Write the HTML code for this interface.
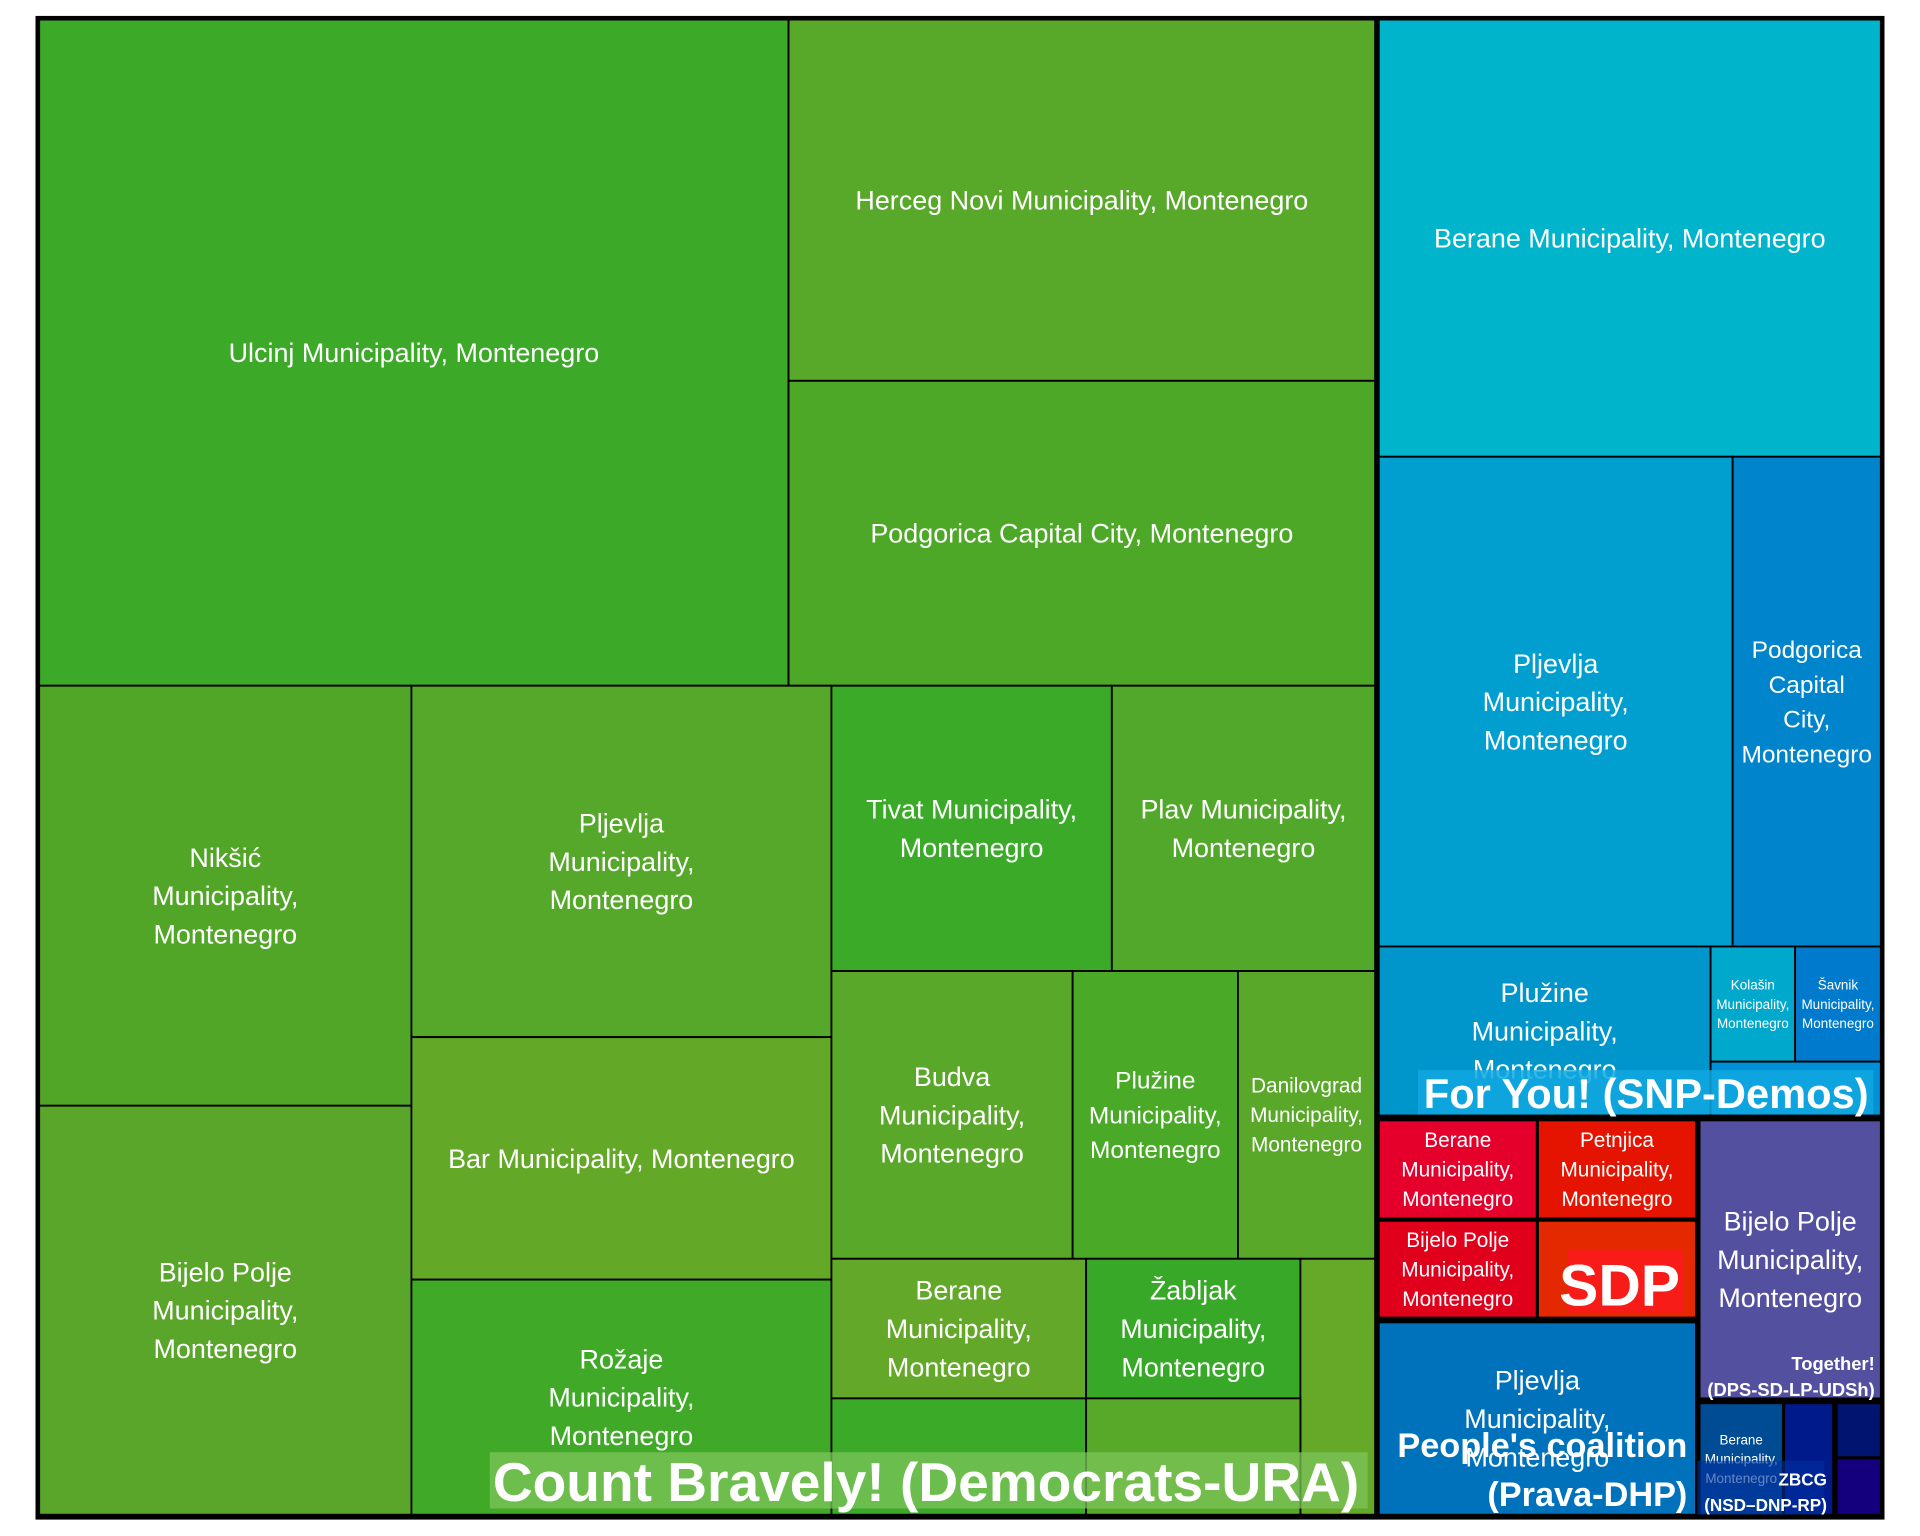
<!DOCTYPE html>
<html><head><meta charset="utf-8"><style>
html,body{margin:0;padding:0;background:#fff;width:1920px;height:1536px;overflow:hidden}
svg{display:block}
text{font-family:"Liberation Sans",sans-serif;fill:#fff}
</style></head><body>
<svg id="chart" width="1920" height="1536" viewBox="0 0 1568 1254.4" xmlns="http://www.w3.org/2000/svg">
<rect x="29" y="13" width="1510" height="1228" fill="#000"/>
<g id="cells"></g>
<g id="labels"></g>
</svg>
<script>
// cell names (municipality) and their party groups
const names=["Ulcinj Municipality, Montenegro","Herceg Novi Municipality, Montenegro","Podgorica Capital City, Montenegro","Nikšić|Municipality,|Montenegro","Bijelo Polje|Municipality,|Montenegro","Pljevlja|Municipality,|Montenegro","Bar Municipality, Montenegro","Rožaje|Municipality,|Montenegro","Tivat Municipality,|Montenegro","Plav Municipality,|Montenegro","Budva|Municipality,|Montenegro","Plužine|Municipality,|Montenegro","Danilovgrad|Municipality,|Montenegro","Berane|Municipality,|Montenegro","Žabljak|Municipality,|Montenegro","","","",
"Berane Municipality, Montenegro","Pljevlja|Municipality,|Montenegro","Podgorica|Capital|City,|Montenegro","Plužine|Municipality,|Montenegro","Kolašin|Municipality,|Montenegro","Šavnik|Municipality,|Montenegro","",
"Berane|Municipality,|Montenegro","Petnjica|Municipality,|Montenegro","Bijelo Polje|Municipality,|Montenegro","",
"Pljevlja|Municipality,|Montenegro","Bijelo Polje|Municipality,|Montenegro","Berane|Municipality,|Montenegro","","",""];
const colors=["#3caa28","#58a82a","#4ea828","#52a627","#5aa62a","#56a82a","#64a828","#40aa28","#3aaa28","#52a82a","#5aa82a","#4aaa28","#5aa82a","#64a82a","#38a828","#66a828","#3aaa28","#58a82a",
"#00b4cc","#009fcf","#0084cc","#0096cc","#00a8cc","#007acc","#0090d8",
"#e4002a","#e41400","#e0001c","#e42800",
"#0072bc","#5450a0","#004c94","#001a8c","#001470","#14007c"];
const fsz=[22,22,22,22,22,22,22,22,22,22,22,20,17,22,22,0,0,0,22,22,20,22,11,11,0,17,17,17,0,22,22,11,0,0,0];
// layout rectangles [x0,x1,y0,y1]
const boxes=[[32,644,16,560],[644,1123,16,311],[644,1123,311,560],[32,336,560,903],[32,336,903,1237],[336,679,560,847],[336,679,847,1045],[336,679,1045,1237],[679,908,560,793],[908,1123,560,793],[679,876,793,1028],[876,1011,793,1028],[1011,1123,793,1028],[679,887,1028,1142],[887,1062,1028,1142],[1062,1123,1028,1237],[679,887,1142,1237],[887,1062,1142,1237],
[1126,1536,16,373],[1126,1415,373,773],[1415,1536,373,773],[1126,1397,773,911],[1397,1466,773,867],[1466,1536,773,867],[1397,1536,867,911],
[1126,1255,915,995],[1256,1385,915,995],[1126,1255,997,1076],[1256,1385,997,1076],
[1126,1385,1080,1237],[1388,1536,915,1142],[1388,1456,1146,1237],[1457,1497,1146,1237],[1500,1536,1146,1190],[1500,1536,1191,1237]];
const NS="http://www.w3.org/2000/svg";
const cg=document.getElementById('cells');
boxes.forEach((b,i)=>{
  const r=document.createElementNS(NS,'rect');
  r.setAttribute('x',b[0]);r.setAttribute('y',b[2]);r.setAttribute('width',b[1]-b[0]);r.setAttribute('height',b[3]-b[2]);
  r.setAttribute('fill',colors[i]);r.setAttribute('stroke','#000');r.setAttribute('stroke-width','1.5');
  
  
  cg.appendChild(r);
  if(names[i]&&fsz[i]){
    const lines=names[i].split('|'),fs=fsz[i],lh=fs*1.42;
    const cx=(b[0]+b[1])/2,cy=(b[2]+b[3])/2;
    const t=document.createElementNS(NS,'text');
    t.setAttribute('text-anchor','middle');t.setAttribute('font-size',fs);
    
    
    lines.forEach((l,k)=>{const s=document.createElementNS(NS,'tspan');s.setAttribute('x',cx);s.setAttribute('y',cy+(k-(lines.length-1)/2)*lh+fs*0.35);s.textContent=l;t.appendChild(s);});
    cg.appendChild(t);
  }
});
const gl=document.getElementById('labels');
gl.innerHTML=`
<rect x="400" y="1186" width="717" height="46" fill="#7cc45a" opacity="0.75"/>
<text x="1110" y="1226" text-anchor="end" font-size="45" font-weight="bold">Count Bravely! (Democrats-URA)</text>
<rect x="1158" y="874" width="372" height="36" fill="#10a8e0" opacity="0.85"/>
<text x="1526" y="905" text-anchor="end" font-size="34" font-weight="bold">For You! (SNP-Demos)</text>
<rect x="1280" y="1020" width="95" height="52" fill="#f81c18"/>
<text x="1372" y="1066" text-anchor="end" font-size="48" font-weight="bold">SDP</text>
<text x="1378" y="1190" text-anchor="end" font-size="28" font-weight="bold">People's coalition</text>
<text x="1378" y="1230" text-anchor="end" font-size="28" font-weight="bold">(Prava-DHP)</text>
<text x="1531" y="1119" text-anchor="end" font-size="15" font-weight="bold">Together!</text>
<text x="1531" y="1140" text-anchor="end" font-size="15" font-weight="bold">(DPS-SD-LP-UDSh)</text>
<rect x="1386" y="1193" width="104" height="44" fill="#0030a0" opacity="0.6"/>
<text x="1492" y="1213" text-anchor="end" font-size="14" font-weight="bold">ZBCG</text>
<text x="1492" y="1234" text-anchor="end" font-size="14" font-weight="bold">(NSD–DNP-RP)</text>`;
</script>
</body></html>
